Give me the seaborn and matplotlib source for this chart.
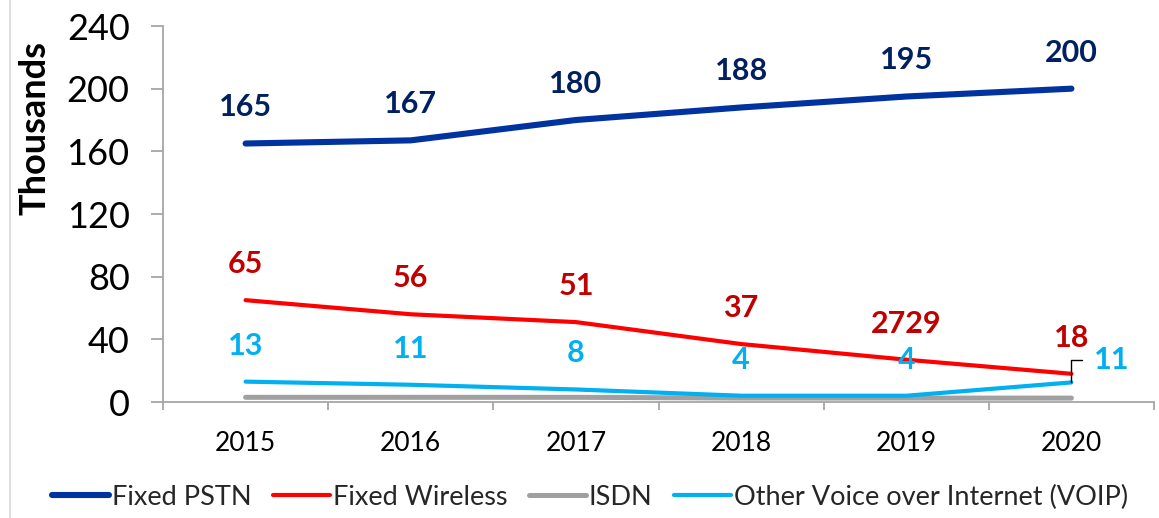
import matplotlib
matplotlib.use("Agg")
import matplotlib.pyplot as plt
from matplotlib.lines import Line2D
import seaborn as sns
import numpy as np

years = ["2015", "2016", "2017", "2018", "2019", "2020"]
pstn = [165, 167, 180, 188, 195, 200]
wireless = [65, 56, 51, 37, 27, 18]
isdn = [3, 3, 3, 2.5, 2.5, 2.5]
voip = [13, 11, 8, 4, 4, 12.5]

pstn_labels = ["165", "167", "180", "188", "195", "200"]
wireless_labels = ["65", "56", "51", "37", "2729", "18"]
voip_labels = ["13", "11", "8", "4", "4", "11"]

series_names = ["Fixed PSTN", "Fixed Wireless", "ISDN", "Other Voice over Internet (VOIP)"]
line_colors = ["#0033a0", "#ff0000", "#a0a0a0", "#00b0f0"]
label_colors = ["#002060", "#c00000", None, "#00b0f0"]
line_widths = [4.4, 3.0, 3.6, 3.0]
yticks = [0, 40, 80, 120, 160, 200, 240]

sns.set_theme(style="white")
plt.rcParams['font.family'] = ['Lato', 'DejaVu Sans']

fig = plt.figure(figsize=(11.59, 5.18), dpi=100)
ax = fig.add_axes([163/1159, 1-402/518, (1154-163)/1159, (402-26)/518])

x = np.arange(len(years))
all_series = [pstn, wireless, isdn, voip]
handles = []
for vals, name, col, lw in zip(all_series, series_names, line_colors, line_widths):
    sns.lineplot(x=x, y=vals, ax=ax, color=col, linewidth=lw, label=name,
                 solid_capstyle="round", legend=False)
    handles.append(Line2D([0], [0], color=col, linewidth=lw, solid_capstyle="round"))

# data labels
for vals, labs, col in [(pstn, pstn_labels, label_colors[0]),
                        (wireless, wireless_labels, label_colors[1]),
                        (voip, voip_labels, label_colors[3])]:
    for i, (v, t) in enumerate(zip(vals, labs)):
        if col == label_colors[3] and i == len(vals) - 1:
            ax.annotate(t, xy=(x[i], v), xytext=(16, 16), textcoords="offset points",
                        ha="left", va="center", color=col, fontsize=22, fontweight="bold",
                        arrowprops=dict(arrowstyle="-", color="black", lw=1.0,
                                        connectionstyle="angle,angleA=0,angleB=90,rad=0",
                                        relpos=(0, 0.5), shrinkA=6, shrinkB=0))
        else:
            ax.annotate(t, xy=(x[i], v), xytext=(0, 26), textcoords="offset points",
                        ha="center", va="center", color=col, fontsize=22, fontweight="bold")

ax.set_xlim(-0.5, len(years) - 0.5)
ax.set_ylim(0, 240)
ax.set_yticks(yticks)
ax.set_yticklabels([str(t) for t in yticks])
ax.set_xticks(x)
ax.set_xticklabels(years)
ax.set_xticks(np.arange(-0.5, len(years)), minor=True)

spine_col = "#a6a6a6"
for s in ["top", "right"]:
    ax.spines[s].set_visible(False)
for s in ["left", "bottom"]:
    ax.spines[s].set_color(spine_col)
    ax.spines[s].set_linewidth(1.3)

ax.tick_params(axis="y", which="major", direction="out", length=9, width=1.3,
               color=spine_col, pad=15, labelsize=26, labelcolor="black", left=True)
ax.tick_params(axis="x", which="major", length=0, pad=21, labelsize=19, labelcolor="black")
ax.tick_params(axis="x", which="minor", direction="out", length=6, width=1.3,
               color=spine_col, bottom=True)

ax.set_ylabel("Thousands", fontsize=26, fontweight="bold", color="black")
ax.yaxis.set_label_coords(-0.113, 0.73)
ax.set_xlabel("")
ax.grid(False)

fig.legend(handles, series_names, loc="center", bbox_to_anchor=(590/1159, 1-497/518),
           ncol=4, frameon=False, fontsize=19.5, handlelength=2.1, handletextpad=0.1,
           columnspacing=0.8, borderaxespad=0)

fig.add_artist(Line2D([10/1159, 10/1159], [0, 1], transform=fig.transFigure,
                      color="#d9d9d9", linewidth=1.2))

fig.savefig("out.png", dpi=100)
